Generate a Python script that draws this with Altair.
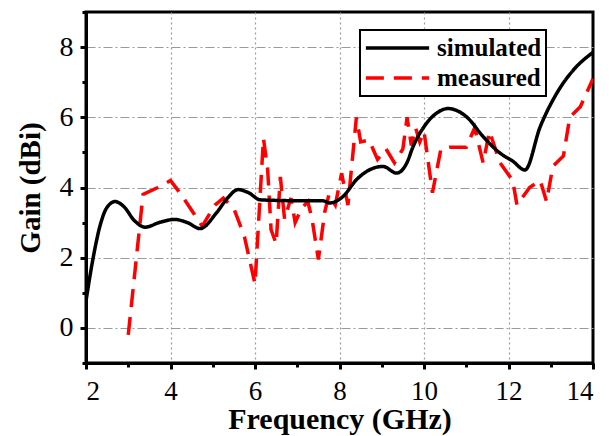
import altair as alt
import pandas as pd

sim_x = [2.0, 2.17, 2.33, 2.49, 2.69, 2.9, 3.15, 3.4, 3.75, 4.1, 4.4, 4.7, 5.09, 5.35, 5.6, 5.85, 6.12, 6.6, 7.1, 7.61, 7.77, 8.08, 8.4, 8.8, 9.03, 9.35, 9.59, 9.74, 10.06, 10.3, 10.57, 11.01, 11.4, 11.8, 12.1, 12.39, 12.75, 13.14, 13.53, 14.0]
sim_y = [0.77, 2.0, 2.9, 3.42, 3.6, 3.45, 3.05, 2.87, 3.01, 3.09, 3.0, 2.83, 3.28, 3.7, 3.94, 3.85, 3.65, 3.63, 3.62, 3.62, 3.56, 3.74, 4.22, 4.55, 4.6, 4.41, 4.69, 5.16, 5.83, 6.12, 6.25, 6.01, 5.45, 4.98, 4.75, 4.5, 5.73, 6.68, 7.34, 7.85]

meas_x = [3.0, 3.35, 3.7, 4.0, 4.25, 4.75, 5.05, 5.25, 5.5, 5.75, 6.0, 6.2, 6.3, 6.38, 6.5, 6.6, 6.7, 6.85, 6.95, 7.1, 7.25, 7.35, 7.5, 7.65, 7.75, 7.9, 8.05, 8.2, 8.4, 8.5, 8.7, 8.9, 9.1, 9.3, 9.5, 9.6, 9.7, 9.8, 9.9, 10.0, 10.2, 10.4, 10.6, 11.0, 11.2, 11.4, 11.55, 11.8, 12.1, 12.2, 12.5, 12.75, 12.9, 13.05, 13.3, 13.45, 13.7, 14.0]
meas_y = [-0.2, 3.8, 4.0, 4.2, 3.8, 2.9, 3.5, 3.7, 3.4, 2.6, 1.25, 5.4, 4.5, 2.8, 2.4, 4.3, 3.1, 3.7, 3.0, 3.4, 3.6, 3.1, 1.95, 3.3, 3.8, 3.5, 4.4, 3.5, 6.0, 5.3, 5.35, 4.8, 5.1, 4.7, 5.1, 6.0, 5.2, 5.7, 5.3, 5.6, 3.85, 5.1, 5.15, 5.15, 5.7, 4.7, 5.6, 4.7, 4.2, 3.5, 4.0, 4.2, 3.6, 4.6, 4.9, 6.0, 6.3, 7.1]

series_names = ["simulated", "measured"]
x_ticks = list(range(2, 15))
y_ticks = list(range(-1, 10))

df_sim = pd.DataFrame({"f": sim_x, "g": sim_y, "s": series_names[0], "o": range(len(sim_x))})
df_meas = pd.DataFrame({"f": meas_x, "g": meas_y, "s": series_names[1], "o": range(len(meas_x))})

FONT = "Liberation Serif"
even = "datum.value % 2 === 0"

x_axis = alt.Axis(
    values=x_ticks, title="Frequency (GHz)",
    labelExpr="datum.value % 2 === 0 ? datum.label : ''",
    labelFont=FONT, labelFontSize=27, labelColor="black", labelPadding=9,
    titleFont=FONT, titleFontSize=30, titleFontWeight="bold", titleColor="black", titlePadding=0,
    domainColor="black", domainWidth=3, tickColor="black", tickWidth=3,
    tickSize={"condition": {"test": even, "value": 6}, "value": 4},
    grid=True, gridColor="#9a9a9a", gridWidth=1.2, gridDash=[2, 3],
    gridOpacity={"condition": {"test": even + " && datum.value > 2 && datum.value < 14", "value": 1}, "value": 0},
)
y_axis = alt.Axis(
    values=y_ticks, title="Gain (dBi)",
    labelExpr="datum.value % 2 === 0 && datum.value >= 0 && datum.value <= 8 ? datum.label : ''",
    labelFont=FONT, labelFontSize=28, labelColor="black", labelPadding=7,
    titleFont=FONT, titleFontSize=29, titleFontWeight="bold", titleColor="black", titlePadding=14,
    domainColor="black", domainWidth=3, tickColor="black", tickWidth=3,
    tickSize={"condition": {"test": even, "value": 6}, "value": 4},
    grid=True, gridColor="#9a9a9a", gridWidth=1.2, gridDash=[9, 3, 2, 3],
    gridOpacity={"condition": {"test": even + " && datum.value >= 0 && datum.value <= 8", "value": 1}, "value": 0},
)

x_enc = alt.X("f:Q", scale=alt.Scale(domain=[2, 14], nice=False, zero=False), axis=x_axis)
y_enc = alt.Y("g:Q", scale=alt.Scale(domain=[-1, 9], nice=False, zero=False), axis=y_axis)
color_enc = alt.Color("s:N", scale=alt.Scale(domain=series_names, range=["black", "#ff0000"]),
                      legend=alt.Legend(
                          title=None, orient="none", legendX=274, legendY=18,
                          padding=4, fillColor="white", clipHeight=28,
                          labelFont=FONT, labelFontSize=25, labelFontWeight="bold", labelColor="black",
                          symbolType="stroke", symbolSize=4000, symbolStrokeWidth=3.5,
                          labelOffset=6, labelLimit=300,
                      ))
dash_enc = alt.StrokeDash("s:N", scale=alt.Scale(domain=series_names, range=[[1, 0], [18, 10]]), legend=None)

sim = alt.Chart(df_sim).mark_line(strokeWidth=3.5, clip=True, interpolate="monotone").encode(
    x=x_enc, y=y_enc, color=color_enc, strokeDash=dash_enc, order="o:Q"
)
meas = alt.Chart(df_meas).mark_line(strokeWidth=3.5, clip=True, interpolate="linear").encode(
    x=x_enc, y=y_enc, color=color_enc, strokeDash=dash_enc, order="o:Q"
)

chart = alt.layer(meas, sim).properties(
    width=507, height=351,
    autosize=alt.AutoSizeParams(type="none"),
    padding={"left": 78, "top": 4, "right": 8, "bottom": 73},
).configure_view(
    stroke="black", strokeWidth=3
).configure_legend(
    strokeColor="black", strokeWidth=2, rowPadding=2
)

chart.save("out.html", embed_options={"renderer": "svg", "actions": False})
